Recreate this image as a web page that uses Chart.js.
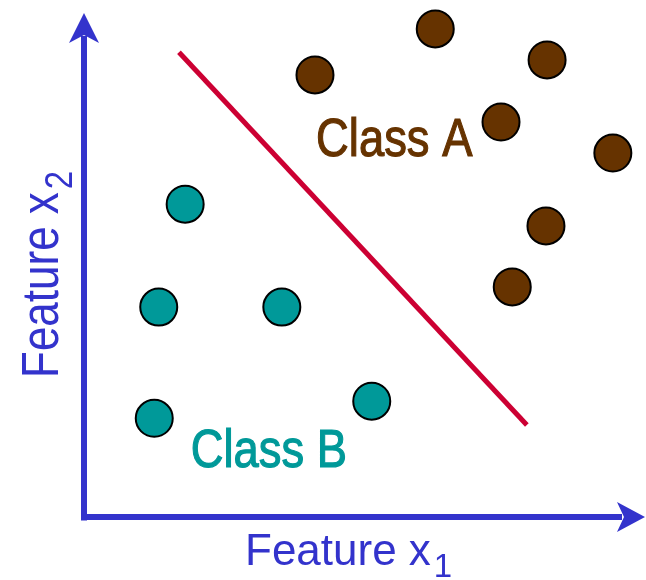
<!DOCTYPE html>
<html lang="en">
<head>
    <meta charset="UTF-8">
    <title>Linear decision boundary</title>
    <script src="https://cdn.jsdelivr.net/npm/chart.js"></script>
    <style>
        html, body {
            margin: 0;
            padding: 0;
            background: #fff;
        }
        #wrap {
            width: 646px;
            height: 580px;
        }
    </style>
</head>
<body>
    <div id="wrap"><canvas id="boundaryChart" width="646" height="580"></canvas></div>

    <script>
        // feature space, both axes run 0..10
        const classAx = [4.11, 6.25, 8.24, 7.42, 9.41, 8.22, 7.62];
        const classAy = [8.55, 9.44, 8.84, 7.64, 7.04, 5.63, 4.45];
        const classBx = [1.80, 1.33, 3.52, 1.25, 5.12];
        const classBy = [6.05, 4.06, 4.06, 1.91, 2.24];
        const boundaryX = [1.69, 7.88];
        const boundaryY = [8.99, 1.78];

        // class names and where they sit (data units)
        const classNames = ['Class A', 'Class B'];
        const classNameX = [4.13, 1.90];
        const classNameY = [6.98, 0.97];

        const BLUE = '#3333cc';
        const BROWN = '#663300';
        const TEAL = '#009999';
        const RED = '#cc0033';

        const toPoints = (xs, ys) => xs.map((x, i) => ({ x: x, y: ys[i] }));

        // axes with arrow heads
        const arrowAxes = {
            id: 'arrowAxes',
            beforeDatasetsDraw(chart) {
                const ctx = chart.ctx;
                const a = chart.chartArea;
                const ox = a.left, oy = a.bottom;
                ctx.save();
                ctx.strokeStyle = BLUE;
                ctx.fillStyle = BLUE;
                ctx.lineWidth = 6;
                ctx.lineCap = 'butt';
                ctx.beginPath();
                ctx.moveTo(ox, oy + 3.5);
                ctx.lineTo(ox, 36);
                ctx.moveTo(ox - 3, oy);
                ctx.lineTo(a.right - 24, oy);
                ctx.stroke();

                // up arrow
                ctx.beginPath();
                ctx.moveTo(ox, 13);
                ctx.lineTo(ox + 15, 43);
                ctx.lineTo(ox, 35);
                ctx.lineTo(ox - 15, 43);
                ctx.closePath();
                ctx.fill();

                // right arrow
                const tip = a.right - 1;
                ctx.beginPath();
                ctx.moveTo(tip, oy);
                ctx.lineTo(tip - 28, oy + 15);
                ctx.lineTo(tip - 21, oy);
                ctx.lineTo(tip - 28, oy - 15);
                ctx.closePath();
                ctx.fill();
                ctx.restore();
            }
        };

        // axis titles with subscripts, class names
        const labelText = {
            id: 'labelText',
            afterDatasetsDraw(chart) {
                const ctx = chart.ctx;
                const a = chart.chartArea;
                const sx = chart.scales.x, sy = chart.scales.y;
                ctx.save();
                ctx.textAlign = 'left';
                ctx.textBaseline = 'alphabetic';

                // x title
                ctx.fillStyle = BLUE;
                ctx.font = '44px "Liberation Sans", Arial, sans-serif';
                const main = 'Feature x';
                const bx = a.left + 161, by = a.bottom + 48;
                ctx.fillText(main, bx, by);
                const w = ctx.measureText(main).width;
                ctx.font = '33px "Liberation Sans", Arial, sans-serif';
                ctx.fillText('1', bx + w + 3, by + 12);

                // y title, rotated
                ctx.save();
                ctx.translate(a.left - 26, 378);
                ctx.rotate(-Math.PI / 2);
                ctx.scale(1, 1.17);
                ctx.font = '44px "Liberation Sans", Arial, sans-serif';
                ctx.fillText(main, 0, 0);
                ctx.font = '33px "Liberation Sans", Arial, sans-serif';
                ctx.fillText('2', w + 3, 12);
                ctx.restore();

                // class names, condensed; a thin stroke keeps the stems from looking too light
                const colors = [BROWN, TEAL];
                ctx.font = '54px "Liberation Sans", Arial, sans-serif';
                classNames.forEach((name, i) => {
                    ctx.save();
                    ctx.fillStyle = colors[i];
                    ctx.strokeStyle = colors[i];
                    ctx.lineWidth = 1.2;
                    ctx.translate(sx.getPixelForValue(classNameX[i]), sy.getPixelForValue(classNameY[i]));
                    ctx.scale(0.84, 1);
                    ctx.fillText(name, 0, 0);
                    ctx.strokeText(name, 0, 0);
                    ctx.restore();
                });
                ctx.restore();
            }
        };

        const ctx = document.getElementById('boundaryChart').getContext('2d');
        new Chart(ctx, {
            type: 'scatter',
            data: {
                datasets: [
                    {
                        label: 'boundary',
                        data: toPoints(boundaryX, boundaryY),
                        showLine: true,
                        borderColor: RED,
                        borderWidth: 5,
                        pointRadius: 0,
                        clip: false
                    },
                    {
                        label: 'Class A',
                        data: toPoints(classAx, classAy),
                        backgroundColor: BROWN,
                        borderColor: '#000',
                        borderWidth: 2,
                        pointRadius: 18.5,
                        clip: false
                    },
                    {
                        label: 'Class B',
                        data: toPoints(classBx, classBy),
                        backgroundColor: TEAL,
                        borderColor: '#000',
                        borderWidth: 2,
                        pointRadius: 18.5,
                        clip: false
                    }
                ]
            },
            options: {
                responsive: false,
                animation: false,
                layout: {
                    autoPadding: false,
                    padding: { left: 84, right: 0, top: 0, bottom: 63 }
                },
                scales: {
                    x: { type: 'linear', min: 0, max: 10, display: false },
                    y: { type: 'linear', min: 0, max: 10, display: false }
                },
                plugins: {
                    legend: { display: false },
                    tooltip: { enabled: false }
                }
            },
            plugins: [arrowAxes, labelText]
        });
    </script>
</body>
</html>
